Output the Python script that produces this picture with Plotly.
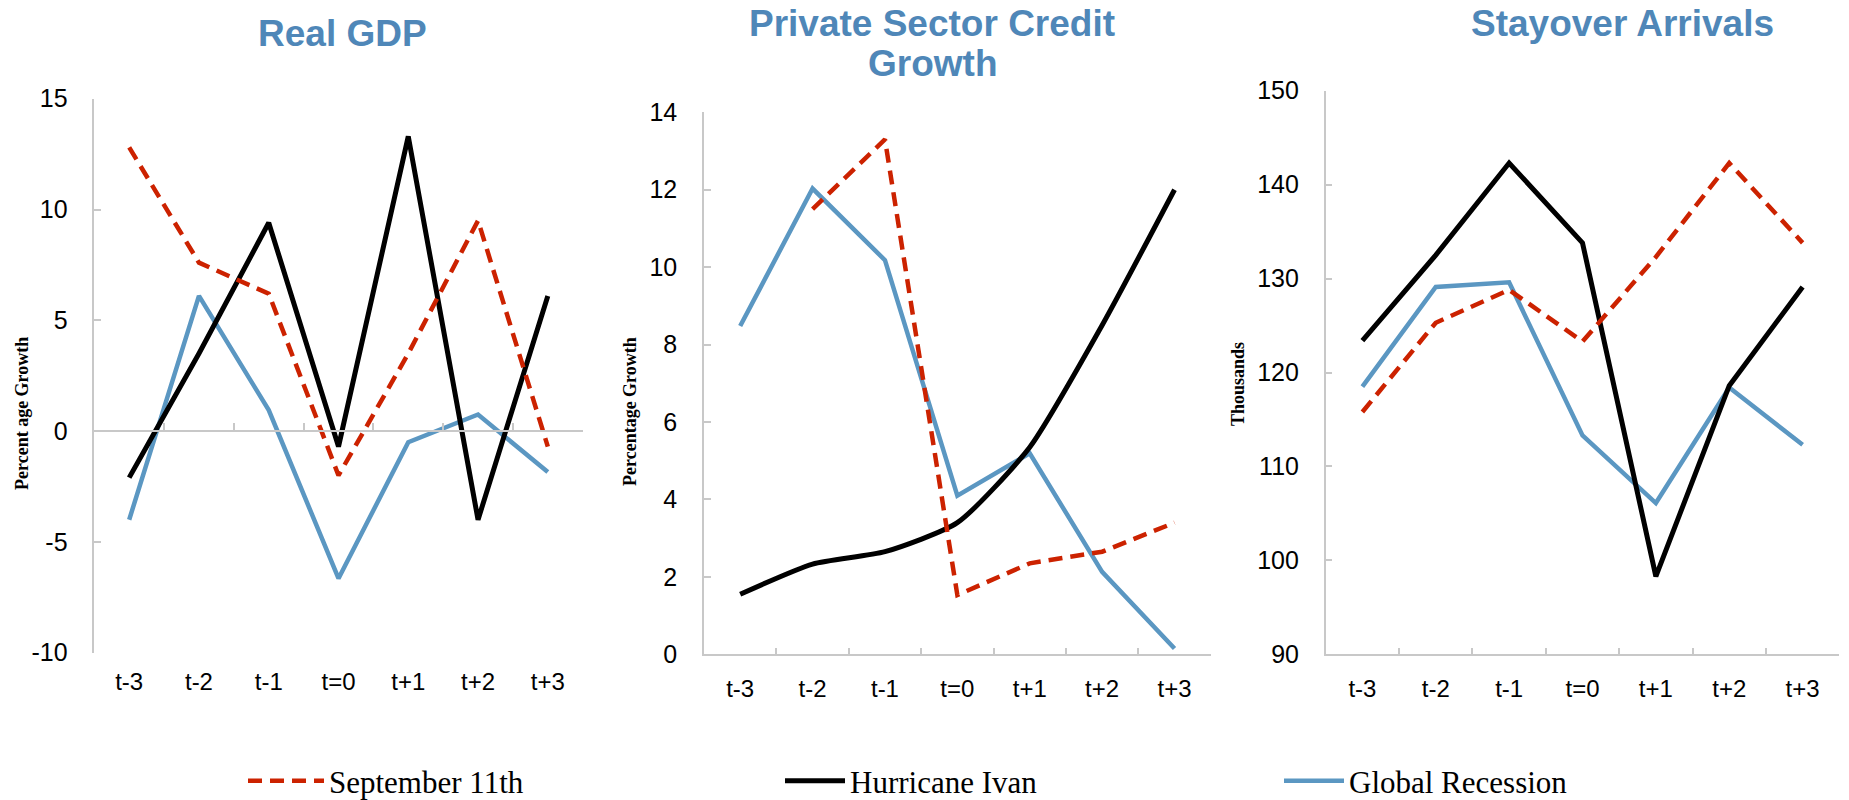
import plotly.graph_objects as go

# Event windows around each shock
periods = ["t-3", "t-2", "t-1", "t=0", "t+1", "t+2", "t+3"]

# Real GDP, percentage growth
gdp_sep11 = [12.8, 7.6, 6.2, -2.0, 3.5, 9.5, -0.7]
gdp_ivan = [-2.1, 3.5, 9.4, -0.7, 13.3, -4.0, 6.1]
gdp_recession = [-4.0, 6.1, 0.95, -6.65, -0.5, 0.75, -1.85]

# Private sector credit growth, percent (no t-3 value for September 11th)
credit_sep11 = [None, 11.5, 13.3, 1.53, 2.35, 2.65, 3.4]
credit_ivan = [1.55, 2.33, 2.65, 3.4, 5.35, 8.5, 12.0]
credit_recession = [8.48, 12.03, 10.18, 4.1, 5.19, 2.13, 0.15]

# Stayover arrivals, thousands
arrivals_sep11 = [115.8, 125.3, 128.8, 123.3, 132.3, 142.3, 133.8]
arrivals_ivan = [123.4, 132.5, 142.3, 133.8, 98.3, 118.6, 129.1]
arrivals_recession = [118.5, 129.1, 129.6, 113.3, 106.1, 118.4, 112.3]

# y-axis ticks and their labels (hyphen minus, as printed)
gdp_ticks = [-10, -5, 0, 5, 10, 15]
gdp_tick_labels = ["-10", "-5", "0", "5", "10", "15"]
credit_ticks = [0, 2, 4, 6, 8, 10, 12, 14]
credit_tick_labels = ["0", "2", "4", "6", "8", "10", "12", "14"]
arrivals_ticks = [90, 100, 110, 120, 130, 140, 150]
arrivals_tick_labels = ["90", "100", "110", "120", "130", "140", "150"]

# chart titles, one entry per printed line
title_lines = [["Real GDP"], ["Private Sector Credit", "Growth"], ["Stayover Arrivals"]]
y_titles = ["Percent age Growth", "Percentage Growth", "Thousands"]
series_names = ["September 11th", "Hurricane Ivan", "Global Recession"]

W, H = 1849, 800
RED = "#CC2200"
BLUE = "#5B97C2"
TITLE_BLUE = "#4F87B8"
AXIS_GREY = "#C8C8C8"
SANS = "Liberation Sans, Arial, sans-serif"
SERIF = "Liberation Serif, Times New Roman, serif"


def px_x(v):
    return v / W


def px_y(v):
    return (H - v) / H


# plot-area boxes in pixels: (left, right, top, bottom)
boxes = [(94.3, 582.7, 98.7, 652.7), (704.0, 1210.7, 112.3, 654.3), (1325.7, 1839.3, 90.7, 654.3)]
y_ticks = [(gdp_ticks, gdp_tick_labels), (credit_ticks, credit_tick_labels),
           (arrivals_ticks, arrivals_tick_labels)]

panels = [
    (gdp_sep11, gdp_ivan, gdp_recession),
    (credit_sep11, credit_ivan, credit_recession),
    (arrivals_sep11, arrivals_ivan, arrivals_recession),
]
shapes_by_panel = ["linear", "spline", "linear"]

fig = go.Figure()

for i, (sep, ivan, rec) in enumerate(panels):
    xa = "x" if i == 0 else f"x{i + 1}"
    ya = "y" if i == 0 else f"y{i + 1}"
    fig.add_trace(go.Scatter(
        x=periods, y=rec, mode="lines", name=series_names[2],
        line=dict(color=BLUE, width=4.5), xaxis=xa, yaxis=ya,
        showlegend=(i == 0), legend="legend3"))
    fig.add_trace(go.Scatter(
        x=periods, y=ivan, mode="lines", name=series_names[1],
        line=dict(color="black", width=5, shape=shapes_by_panel[i], smoothing=0.6),
        xaxis=xa, yaxis=ya, showlegend=(i == 0), legend="legend2"))
    fig.add_trace(go.Scatter(
        x=periods, y=sep, mode="lines", name=series_names[0],
        line=dict(color=RED, width=4.5, dash="14px,8px"),
        xaxis=xa, yaxis=ya, showlegend=(i == 0), legend="legend"))

# helper trace so the zero-crossing category axis of the first panel is drawn
fig.add_trace(go.Scatter(x=periods, y=gdp_recession, mode="none", xaxis="x4", yaxis="y",
                         showlegend=False, hoverinfo="skip"))

layout = dict(
    width=W, height=H,
    margin=dict(l=0, r=0, t=0, b=0, autoexpand=False),
    paper_bgcolor="white", plot_bgcolor="white",
    showlegend=True,
    annotations=[],
)

for i, (l, r, t, b) in enumerate(boxes):
    sx = "" if i == 0 else str(i + 1)
    tv, tt = y_ticks[i]
    xdom = [px_x(l), px_x(r)]
    ydom = [px_y(b), px_y(t)]
    layout["xaxis" + sx] = dict(
        domain=xdom, anchor="y" + sx, type="category",
        categoryorder="array", categoryarray=periods, range=[-0.5, 6.5],
        showline=(i != 0), linecolor=AXIS_GREY, linewidth=1.5,
        ticks=("inside" if i != 0 else ""), tickson="boundaries", ticklen=7,
        tickcolor=AXIS_GREY, tickwidth=1.5,
        showgrid=False, zeroline=False, automargin=False,
        tickfont=dict(family=SANS, size=24, color="black"),
        ticklabelstandoff=12,
    )
    layout["yaxis" + sx] = dict(
        domain=ydom, anchor="x" + sx, range=[tv[0], tv[-1]],
        tickmode="array", tickvals=tv, ticktext=tt,
        showline=True, linecolor=AXIS_GREY, linewidth=1.5,
        ticks="inside", ticklen=7, tickcolor=AXIS_GREY, tickwidth=1.5,
        showgrid=False, zeroline=False, automargin=False,
        tickfont=dict(family=SANS, size=25, color="black"),
        ticklabelstandoff=20,
    )

# category axis crossing the first panel at zero
l, r, t, b = boxes[0]
lo, hi = gdp_ticks[0], gdp_ticks[-1]
d0, d1 = px_y(b), px_y(t)
layout["xaxis4"] = dict(
    overlaying="x", anchor="free", position=d0 + (0 - lo) / (hi - lo) * (d1 - d0),
    domain=[px_x(l), px_x(r)], type="category",
    categoryorder="array", categoryarray=periods, range=[-0.5, 6.5],
    showline=True, linecolor=AXIS_GREY, linewidth=1.5,
    ticks="inside", tickson="boundaries", ticklen=7, tickcolor=AXIS_GREY, tickwidth=1.5,
    showticklabels=False, showgrid=False, zeroline=False,
)

# chart titles: centre x and y of the first line, then line spacing
title_pos = [(342, 33), (932, 23), (1622, 23)]
LINE_STEP = 41
for lines, (cx, cy) in zip(title_lines, title_pos):
    for k, txt in enumerate(lines):
        layout["annotations"].append(dict(
            text=f"<b>{txt}</b>", x=px_x(cx), y=px_y(cy + k * LINE_STEP),
            xref="paper", yref="paper",
            xanchor="center", yanchor="middle", showarrow=False,
            font=dict(family=SANS, size=37, color=TITLE_BLUE)))

# rotated axis titles
ytitle_pos = [(22, 414), (630, 412), (1238, 384)]
for txt, (cx, cy) in zip(y_titles, ytitle_pos):
    layout["annotations"].append(dict(
        text=f"<b>{txt}</b>", x=px_x(cx), y=px_y(cy), xref="paper", yref="paper",
        xanchor="center", yanchor="middle", showarrow=False, textangle=-90,
        font=dict(family=SERIF, size=18, color="black")))

# one legend per series, spread along the bottom
legend_spec = [("legend", 243, 76), ("legend2", 780, 60), ("legend3", 1279, 60)]
for key, lx, iw in legend_spec:
    layout[key] = dict(
        x=px_x(lx), y=px_y(781), xanchor="left", yanchor="middle",
        orientation="h", bgcolor="rgba(0,0,0,0)", itemwidth=iw,
        font=dict(family=SERIF, size=31, color="black"),
    )

fig.update_layout(**layout)
fig.write_html("out.html")
